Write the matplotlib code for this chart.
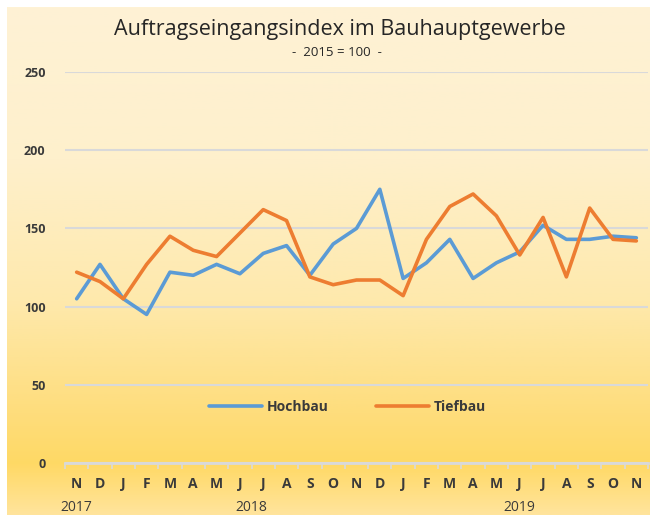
import numpy as np
import matplotlib
matplotlib.use("Agg")
import matplotlib.pyplot as plt
from matplotlib.colors import LinearSegmentedColormap

months = ["N", "D", "J", "F", "M", "A", "M", "J", "J", "A", "S", "O", "N",
          "D", "J", "F", "M", "A", "M", "J", "J", "A", "S", "O", "N"]
year_labels = ["2017", "2018", "2019"]
year_pos = [0, 7.5, 19]
hochbau = [105, 127, 105, 95, 122, 120, 127, 121, 134, 139, 120, 140, 150,
           175, 118, 128, 143, 118, 128, 135, 152, 143, 143, 145, 144]
tiefbau = [122, 116, 105, 127, 145, 136, 132, 147, 162, 155, 119, 114, 117,
           117, 107, 143, 164, 172, 158, 133, 157, 119, 163, 143, 142]

plt.rcParams['font.family'] = ['Open Sans', 'DejaVu Sans']

fig = plt.figure(figsize=(6.5, 5.15), dpi=100)
fig.patch.set_facecolor("white")

# gradient background panel
bg = fig.add_axes([7/650, 0, 1 - 7/650, 1 - 7/515])
bg.set_axis_off()
cmap = LinearSegmentedColormap.from_list(
    "bg",
    [(0.0, "#FEF2D5"), (0.30, "#FEF0CC"), (0.58, "#FEE9AC"),
     (0.80, "#FEDD7C"), (0.90, "#FFD965"), (1.0, "#FFE49C")])
grad = np.linspace(0, 1, 256).reshape(-1, 1)
bg.imshow(grad, aspect="auto", cmap=cmap, extent=[0, 1, 0, 1], origin="upper")
bg.set_zorder(0)

ax = fig.add_axes([65/650, 52/515, (648 - 65)/650, (463 - 72)/515])
ax.set_zorder(1)
ax.patch.set_alpha(0)
x = np.arange(len(months))
ax.plot(x, hochbau, color="#5B9BD5", lw=2.6, label="Hochbau", solid_capstyle="round", zorder=3)
ax.plot(x, tiefbau, color="#ED7D31", lw=2.6, label="Tiefbau", solid_capstyle="round", zorder=3)

ax.set_xlim(-0.5, len(months) - 0.5)
ax.set_ylim(0, 250)
ax.set_yticks([0, 50, 100, 150, 200, 250])
ax.grid(axis="y", color="#D9D9D9", lw=1.5, zorder=1)
ax.tick_params(axis="y", length=0, pad=14, labelsize=9, labelcolor="#3A3A3A")
for lab in ax.get_yticklabels():
    lab.set_fontweight("bold")

ax.set_xticks(x)
ax.set_xticklabels(months, fontsize=10, color="#3A3A3A", fontweight="bold")
ax.tick_params(axis="x", which="major", length=0, pad=10)
ax.set_xticks(np.arange(-0.5, len(months), 1), minor=True)
ax.tick_params(axis="x", which="minor", length=4, width=1.2, color="#D9D9D9", direction="out")
for s in ["top", "right", "left"]:
    ax.spines[s].set_visible(False)
ax.spines["bottom"].set_color("#D9D9D9")
ax.spines["bottom"].set_linewidth(2)

for lab, pos in zip(year_labels, year_pos):
    ax.text(pos, -0.115, lab, transform=ax.get_xaxis_transform(),
            ha="center", va="center", fontsize=10, color="#3A3A3A")

leg = ax.legend(loc="center", bbox_to_anchor=(0.485, (463 - 407) / 391), ncol=2,
                frameon=False, fontsize=10, handlelength=3.8, handletextpad=0.35,
                columnspacing=3.4, labelcolor="#3A3A3A")
for t in leg.get_texts():
    t.set_fontweight("bold")

fig.text(340/650, 1 - 30/515, "Auftragseingangsindex im Bauhauptgewerbe",
         ha="center", va="center", fontsize=15.5, color="#262626")
fig.text(337/650, 1 - 52/515, "-  2015 = 100  -", ha="center", va="center",
         fontsize=9.5, color="#262626")

fig.savefig("out.png", dpi=100)
